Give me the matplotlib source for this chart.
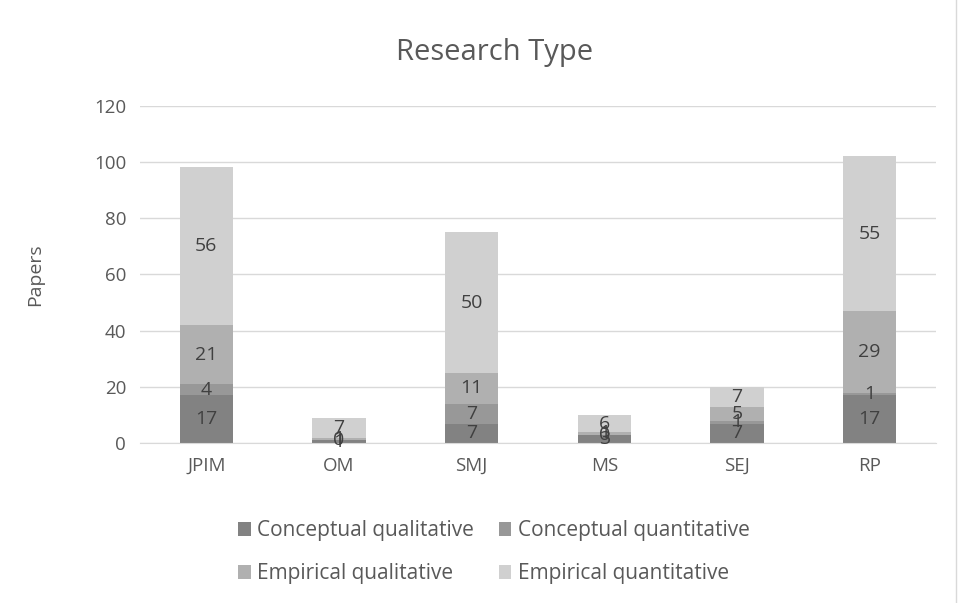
import matplotlib
matplotlib.use('Agg')
import matplotlib.pyplot as plt
import numpy as np

journals = ['JPIM', 'OM', 'SMJ', 'MS', 'SEJ', 'RP']
series = ['Conceptual qualitative', 'Conceptual quantitative',
          'Empirical qualitative', 'Empirical quantitative']
conc_qual = [17, 1, 7, 3, 7, 17]
conc_quant = [4, 0, 7, 0, 1, 1]
emp_qual = [21, 1, 11, 1, 5, 29]
emp_quant = [56, 7, 50, 6, 7, 55]
colors = ['#828282', '#989898', '#b0b0b0', '#d0d0d0']

plt.rcParams['font.family'] = ['Open Sans', 'DejaVu Sans']
txt = '#595959'

fig = plt.figure(figsize=[9.59, 6.03], dpi=100)
ax = fig.add_axes([0.146, 0.265, 0.83, 0.56])

x = np.arange(len(journals))
bottom = np.zeros(len(journals))
handles = []
for name, vals, c in zip(series, [conc_qual, conc_quant, emp_qual, emp_quant], colors):
    vals = np.array(vals, dtype=float)
    h = ax.bar(x, vals, 0.4, bottom=bottom, color=c, label=name, zorder=2)
    handles.append(h)
    for xi, b, v in zip(x, bottom, vals):
        ax.text(xi, b + v / 2, str(int(v)), ha='center', va='center',
                fontsize=14, color='#404040', zorder=3)
    bottom += vals

ax.set_xlim(-0.5, len(journals) - 0.5)
ax.set_ylim(0, 120)
ax.set_yticks(range(0, 121, 20))
ax.grid(axis='y', color='#d9d9d9', linewidth=1, zorder=0)
for s in ['top', 'right', 'left']:
    ax.spines[s].set_visible(False)
ax.spines['bottom'].set_color('#d9d9d9')
ax.tick_params(axis='both', length=0, labelsize=13.5, colors=txt, pad=10)
ax.set_xticks(x)
ax.set_xticklabels(journals)
ax.set_ylabel('Papers', fontsize=14, color=txt, labelpad=36)
fig.text(0.516, 0.913, 'Research Type', fontsize=21, color=txt,
         ha='center', va='center')

# row-major legend order: reorder for matplotlib's column fill
order = [0, 2, 1, 3]
fig.legend([handles[i] for i in order], [series[i] for i in order],
           loc='lower center', bbox_to_anchor=(0.515, 0.0), ncol=2, frameon=False,
           fontsize=15, labelcolor=txt, handlelength=0.6, handleheight=0.6,
           handletextpad=0.3, columnspacing=1.2, labelspacing=1.05)

fig.add_artist(plt.Line2D([0.997, 0.997], [0, 1], color='#d9d9d9', lw=1))
fig.savefig('out.png', dpi=100)
